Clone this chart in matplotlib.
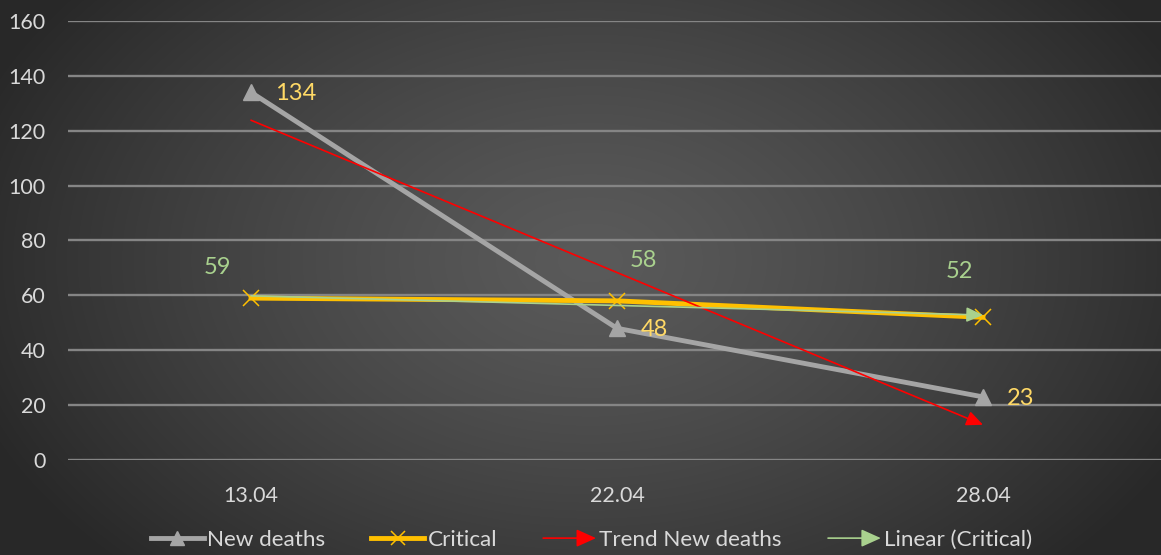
import numpy as np
import matplotlib
matplotlib.use("Agg")
import matplotlib.pyplot as plt
from matplotlib.lines import Line2D
from matplotlib.patches import FancyArrowPatch
from matplotlib.legend_handler import HandlerBase

# data
dates = ["13.04", "22.04", "28.04"]
new_deaths = [134, 48, 23]
critical = [59, 58, 52]
y_ticks = [0, 20, 40, 60, 80, 100, 120, 140, 160]

# label offsets in points (dx, dy)
nd_label_off = [(17, -1), (17, -1), (17, -1)]
cr_label_off = [(-24, 22), (19, 29), (-17, 33)]

GRAY = "#a5a5a5"
YELLOW = "#ffc000"
RED = "#ff0000"
GREEN = "#a9d18e"
LBL_Y = "#ffd966"
TXT = "#d9d9d9"

plt.rcParams["font.family"] = ["Lato", "DejaVu Sans"]

W, H = 1161, 555
fig = plt.figure(figsize=(W / 100, H / 100), dpi=100)

# radial gradient background
bg = fig.add_axes([0, 0, 1, 1], zorder=-10)
yy, xx = np.mgrid[0:H, 0:W]
r = np.sqrt(((xx - 590) / 660) ** 2 + ((yy - 260) / 440) ** 2)
r = np.clip(r, 0, 1)
val = 0x5a / 255 - (0x5a - 0x28) / 255 * r ** 1.3
bg.imshow(np.dstack([val, val, val]), aspect="auto", extent=[0, 1, 0, 1])
bg.axis("off")

ax = fig.add_axes([68 / W, 95 / H, 1098 / W, 439 / H])
ax.patch.set_alpha(0)
x = np.arange(len(dates))
ax.set_xlim(-0.5, 2.5)
ax.set_ylim(0, 160)
ax.set_yticks(y_ticks)
ax.set_xticks(x)
ax.set_xticklabels(dates)
ax.yaxis.grid(True, color="#858585", lw=1.7)
ax.set_axisbelow(True)
for s in ax.spines.values():
    s.set_visible(False)
ax.tick_params(length=0, colors=TXT, labelsize=15.5)
ax.tick_params(axis="y", pad=16)
ax.tick_params(axis="x", pad=19)

# series
ax.plot(x, new_deaths, color=GRAY, lw=3.5, marker="^", ms=12, zorder=3)
ax.plot(x, critical, color=YELLOW, lw=3.5, marker="x", ms=12, mew=1.1, zorder=3)

# linear trendlines
xs = np.arange(1, len(dates) + 1)
for vals, col in [(new_deaths, RED), (critical, GREEN)]:
    k, b = np.polyfit(xs, vals, 1)
    start = (x[0], k * xs[0] + b)
    end = (x[-1], k * xs[-1] + b)
    ax.annotate("", xy=end, xytext=start, zorder=4,
                arrowprops=dict(arrowstyle="-|>,head_length=1.0,head_width=0.45",
                                color=col, lw=1.2, shrinkA=0, shrinkB=0))

for i, v in enumerate(new_deaths):
    ax.annotate(str(v), (x[i], v), xytext=nd_label_off[i], textcoords="offset points",
                color=LBL_Y, fontsize=17, va="center", ha="left", zorder=5)
for i, v in enumerate(critical):
    ax.annotate(str(v), (x[i], v), xytext=cr_label_off[i], textcoords="offset points",
                color=GREEN, fontsize=17, va="center", ha="center", zorder=5)


class ArrowHandler(HandlerBase):
    def __init__(self, color):
        super().__init__()
        self.color = color

    def create_artists(self, legend, orig_handle, xdescent, ydescent, width, height, fontsize, trans):
        y = height / 2 - ydescent
        a = FancyArrowPatch((-xdescent, y), (width - xdescent, y),
                            arrowstyle="-|>,head_length=1.0,head_width=0.45",
                            color=self.color, lw=1.2, mutation_scale=12,
                            shrinkA=0, shrinkB=0, transform=trans)
        return [a]


h_nd = Line2D([], [], color=GRAY, lw=3.5, marker="^", ms=10)
h_cr = Line2D([], [], color=YELLOW, lw=3.5, marker="x", ms=10, mew=1.1)
h_tr = Line2D([], [], color=RED)
h_li = Line2D([], [], color=GREEN)
leg = fig.legend([h_nd, h_cr, h_tr, h_li],
                 ["New deaths", "Critical", "Trend New deaths", "Linear (Critical)"],
                 handler_map={h_tr: ArrowHandler(RED), h_li: ArrowHandler(GREEN)},
                 loc="center", bbox_to_anchor=(0.5095, 15 / H), ncol=4, frameon=False,
                 fontsize=16.2, handlelength=2.35, handletextpad=0.15, columnspacing=2.05,
                 labelcolor=TXT)

fig.savefig("out.png", dpi=100)
